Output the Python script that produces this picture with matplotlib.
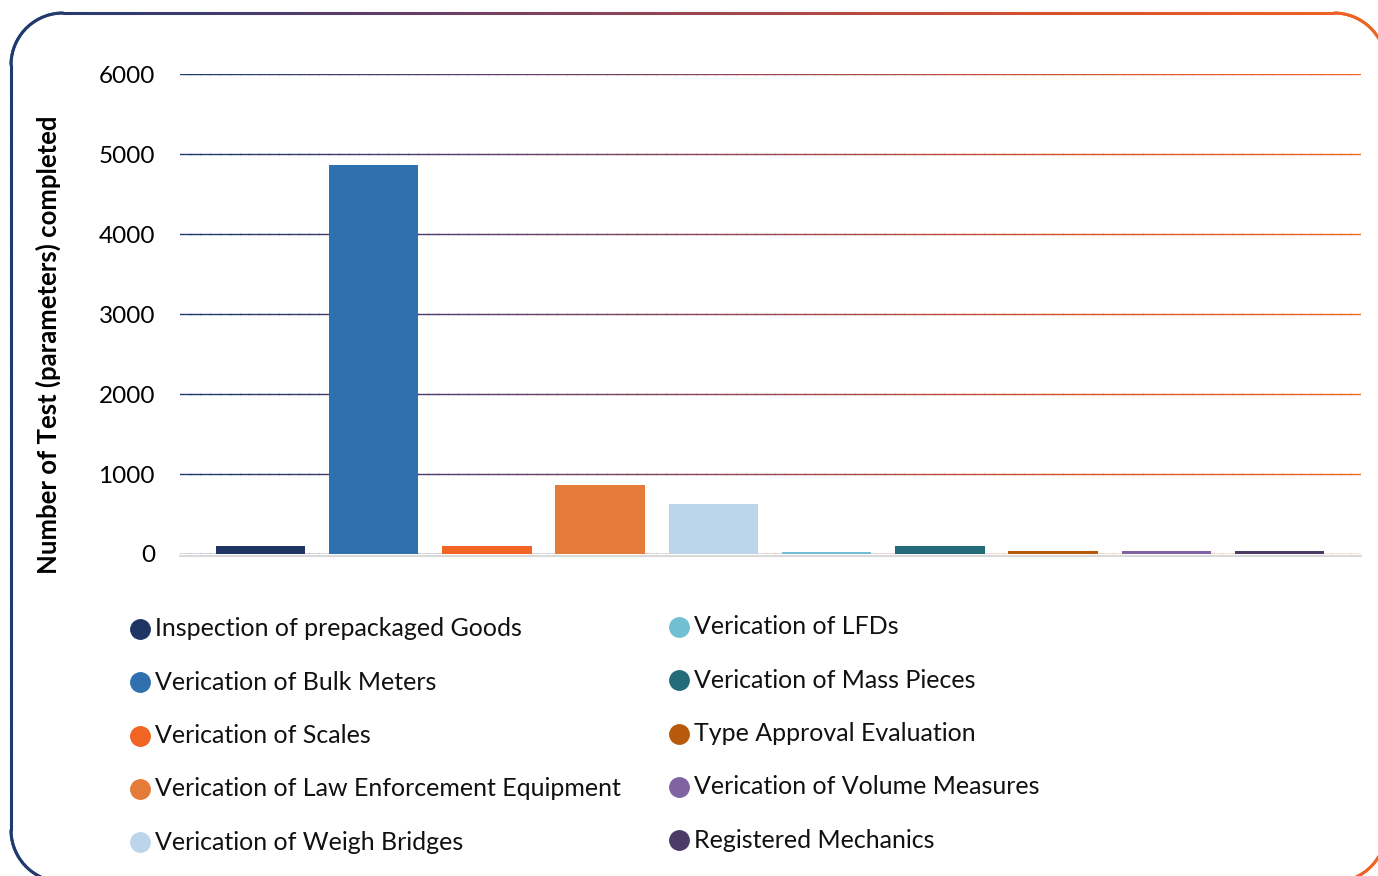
import numpy as np
import matplotlib
matplotlib.use('Agg')
import matplotlib.pyplot as plt
from matplotlib.collections import LineCollection
from matplotlib.colors import LinearSegmentedColormap

plt.rcParams['font.family'] = ['Lato', 'DejaVu Sans']

categories = [
    'Inspection of prepackaged Goods',
    'Verication of Bulk Meters',
    'Verication of Scales',
    'Verication of Law Enforcement Equipment',
    'Verication of Weigh Bridges',
    'Verication of LFDs',
    'Verication of Mass Pieces',
    'Type Approval Evaluation',
    'Verication of Volume Measures',
    'Registered Mechanics',
]
values = [100, 4860, 100, 860, 625, 30, 100, 40, 40, 40]
colors = ['#1f3664', '#2e71ae', '#f06424', '#e57b38', '#bdd5ea',
          '#72bfd3', '#246b7a', '#b85a0c', '#8064a2', '#4b3b66']
yticks = [0, 1000, 2000, 3000, 4000, 5000, 6000]

# navy -> maroon -> orange, used for the grid and the frame
grad = LinearSegmentedColormap.from_list(
    'grad', ['#1f3a6e', '#5a3d6a', '#9a4652', '#d4512e', '#f06424'])

W, H = 1378, 876
fig = plt.figure(figsize=(W / 100, H / 100), dpi=100)
ax = fig.add_axes([180 / W, 1 - 554 / H, 1181 / W, 480 / H])

x = np.arange(len(categories))
ax.set_xlim(-0.71, 9.72)
ax.set_ylim(0, 6000)

# gradient gridlines
xs = np.linspace(-0.71, 9.72, 120)
for yv in yticks:
    segs = [[(xs[i], yv), (xs[i + 1], yv)] for i in range(len(xs) - 1)]
    lc = LineCollection(segs, colors=grad(np.linspace(0, 1, len(segs))),
                        linewidths=1.0, capstyle='projecting', zorder=1)
    ax.add_collection(lc)
ax.axhline(-25, color='#d9d9d9', lw=1.5, zorder=0, clip_on=False)

ax.bar(x, values, width=0.79, color=colors, zorder=2)

for s in ax.spines.values():
    s.set_visible(False)
ax.set_xticks([])
ax.set_yticks(yticks)
ax.set_yticklabels([str(v) for v in yticks], fontsize=17.5)
ax.tick_params(axis='y', length=0, pad=18)
ax.set_ylabel('Number of Test (parameters) completed', fontsize=18.5,
              fontweight='bold')
ax.yaxis.set_label_coords(-119 / 1181, 0.435)

# legend, two columns
for i, (name, c) in enumerate(zip(categories, colors)):
    col, row = divmod(i, 5)
    mx = 140 if col == 0 else 679
    my = (629 if col == 0 else 627) + row * 53.3
    fig.add_artist(plt.Line2D([mx / W], [1 - my / H], marker='o',
                              markersize=14, color=c, linestyle='none'))
    fig.text((mx + 15) / W, 1 - my / H, name, fontsize=18,
             va='center', ha='left', color='#111111')

# rounded frame with horizontal colour gradient
x0, y0, x1, y1, r = 11, 13, 1386, 882, 52
pts = []
for cx, cy, a0 in [(x1 - r, y0 + r, -90), (x1 - r, y1 - r, 0),
                   (x0 + r, y1 - r, 90), (x0 + r, y0 + r, 180)]:
    t = np.radians(np.linspace(a0, a0 + 90, 40))
    pts += list(zip(cx + r * np.cos(t), cy + r * np.sin(t)))
pts.append(pts[0])
pts = np.array(pts)
# densify the straight sides
dense = [pts[0]]
for p, q in zip(pts[:-1], pts[1:]):
    n = max(1, int(np.hypot(*(q - p)) / 10))
    for k in range(1, n + 1):
        dense.append(p + (q - p) * k / n)
dense = np.array(dense)
dense[:, 1] = H - dense[:, 1]
fx = dense[:, 0] / W
fy = dense[:, 1] / H
segs = [[(fx[i], fy[i]), (fx[i + 1], fy[i + 1])] for i in range(len(fx) - 1)]
mid = (dense[:-1, 0] + dense[1:, 0]) / 2
fc = LineCollection(segs, colors=grad(np.clip((mid - x0) / (x1 - x0), 0, 1)),
                    linewidths=2.2, capstyle='round',
                    transform=fig.transFigure)
fig.add_artist(fc)

fig.savefig('out.png', dpi=100)
